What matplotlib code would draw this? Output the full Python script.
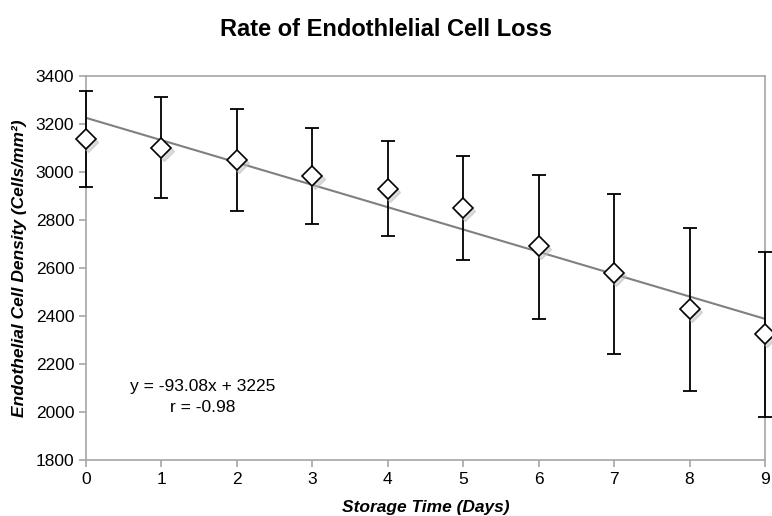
import matplotlib
matplotlib.use("Agg")
import matplotlib.pyplot as plt
import numpy as np

days = [0, 1, 2, 3, 4, 5, 6, 7, 8, 9]
density = [3135, 3100, 3050, 2983, 2929, 2850, 2690, 2577, 2427, 2325]
err_up = [200, 212, 212, 200, 200, 217, 297, 331, 338, 342]
err_dn = [198, 210, 212, 200, 197, 217, 303, 335, 342, 346]
slope, intercept = -93.08, 3225

plt.rcParams['font.family'] = ['Liberation Sans', 'DejaVu Sans']

fig = plt.figure(figsize=(7.72, 5.16), dpi=100)
ax = fig.add_axes([0.1114, 0.109, 0.8795, 0.744])

xs = np.array([0, 9])
ax.plot(xs, slope * xs + intercept, color='#808080', lw=1.5, zorder=2)
eb = ax.errorbar(days, density, yerr=[err_dn, err_up], fmt='none', ecolor='black',
                 elinewidth=1.3, capsize=5, capthick=1.3, zorder=3)
for art in eb.lines[1] + eb.lines[2]:
    art.set_clip_on(False)
# subtle shadow
ax.plot(np.array(days) + 0.03, np.array(density) - 12, linestyle='none', marker='D',
        markersize=10, markerfacecolor='#bbbbbb', markeredgecolor='#bbbbbb', alpha=0.5,
        zorder=3.5, clip_on=False)
ax.plot(days, density, linestyle='none', marker='D', markersize=10,
        markerfacecolor='white', markeredgecolor='black', markeredgewidth=1.2, zorder=4,
        clip_on=False)

ax.set_xlim(0, 9)
ax.set_ylim(1800, 3400)
ax.set_xticks(range(0, 10))
ax.set_yticks(range(1800, 3401, 200))
for s in ax.spines.values():
    s.set_color('#a6a6a6')
    s.set_linewidth(1.2)
ax.tick_params(axis='both', colors='#a6a6a6', labelcolor='black', labelsize=12.5,
               length=5, width=1.2, direction='out')

ax.text(1.55, 2104, 'y = -93.08x + 3225', fontsize=12.5, ha='center', va='center')
ax.text(1.55, 2017, 'r = -0.98', fontsize=12.5, ha='center', va='center')

ax.set_ylabel('Endothelial Cell Density (Cells/mm²)', fontsize=12.5,
              fontweight='bold', style='italic', labelpad=6)
ax.set_xlabel('Storage Time (Days)', fontsize=12.5, fontweight='bold', style='italic', labelpad=10)
fig.suptitle('Rate of Endothlelial Cell Loss', fontsize=17, fontweight='bold', y=0.965)

fig.savefig('out.png', dpi=100)
